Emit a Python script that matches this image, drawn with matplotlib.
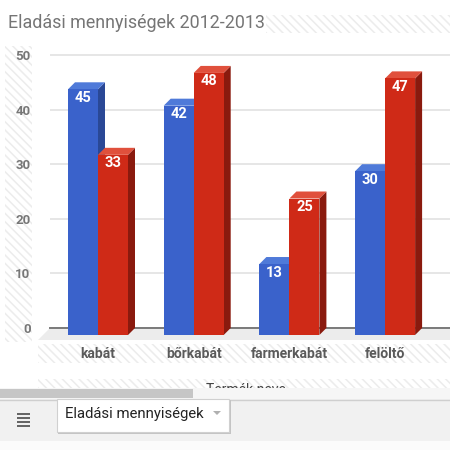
import matplotlib
matplotlib.use("Agg")
import matplotlib.pyplot as plt
from matplotlib.patches import Polygon, Rectangle

plt.rcParams['font.family'] = ['Roboto', 'DejaVu Sans']
plt.rcParams['hatch.linewidth'] = 1.1

# ---- data ----
title = "Eladási mennyiségek 2012-2013"
categories = ['kabát', 'bőrkabát', 'farmerkabát', 'felöltő']
sales_2012 = [45, 42, 13, 30]
sales_2013 = [33, 48, 25, 47]
yticks = [0, 10, 20, 30, 40, 50]
x_title = "Termék neve"
sheet_tab = "Eladási mennyiségek"

# ---- style ----
W = H = 450
fig = plt.figure(figsize=(4.5, 4.5), dpi=100)
fig.patch.set_facecolor('white')

blue = dict(front='#3a62cb', top='#4f7ad9', side='#2a4896')
red = dict(front='#cf2a17', top='#e0503c', side='#8a1a0e')

# overlay axes in pixel coordinates for decorations
ov = fig.add_axes([0, 0, 1, 1], zorder=0)
ov.set_xlim(0, W)
ov.set_ylim(H, 0)
ov.axis('off')

hatch_col = '#ececec'
def hatch_rect(x0, y0, x1, y1, ax=ov):
    ax.add_patch(Rectangle((x0, y0), x1 - x0, y1 - y0, facecolor='none',
                           edgecolor=hatch_col, hatch='\\\\\\\\', lw=0, zorder=0))

hatch_rect(266, 15, 450, 33)
hatch_rect(5, 46, 32, 342)
hatch_rect(38, 344, 450, 363)
hatch_rect(38, 379, 450, 389)

# main chart axes
ax = fig.add_axes([50 / W, 1 - 345 / H, 400 / W, 300 / H], zorder=1)
ax.patch.set_alpha(0)
px_per_unit = 5.46
cat_px = 95.7
ax.set_ylim((328 - 345) / px_per_unit, (328 - 45) / px_per_unit)
ax.set_xlim((50 - 98) / cat_px, (450 - 98) / cat_px)
for s in ax.spines.values():
    s.set_visible(False)

ax.set_yticks(yticks)
ax.set_yticklabels([str(t) for t in yticks], color='#777777', fontsize=9.5, fontweight='bold')
ax.tick_params(axis='y', length=0, pad=14)
ax.yaxis.grid(True, color='#e2e2e2', lw=1.2, zorder=0)
ax.set_axisbelow(True)

ax.set_xticks(range(len(categories)))
ax.set_xticklabels(categories, color='#5a5a5a', fontsize=10, fontweight='bold')
ax.tick_params(axis='x', length=0, pad=1.5)

# floor
x_lo, x_hi = ax.get_xlim()
dx = 7 / cat_px
dy = 7 / px_per_unit
floor_bot = -12 / px_per_unit
ax.add_patch(Polygon([(x_lo, 0), (x_hi, 0), (x_hi, floor_bot), ((38 - 98) / cat_px, floor_bot)],
                     closed=True, facecolor='#ececec', edgecolor='none', zorder=1, clip_on=False))
ax.plot([x_lo, x_hi], [0, 0], color='#7a7a7a', lw=1.4, zorder=1.5, clip_on=False)

bw = 30 / cat_px

def bar3d(x0, v, col, z):
    # side
    ax.add_patch(Polygon([(x0 + bw, -dy), (x0 + bw + dx, 0), (x0 + bw + dx, v), (x0 + bw, v - dy)],
                         closed=True, facecolor=col['side'], edgecolor='none', zorder=z))
    # top
    ax.add_patch(Polygon([(x0, v - dy), (x0 + bw, v - dy), (x0 + bw + dx, v), (x0 + dx, v)],
                         closed=True, facecolor=col['top'], edgecolor='none', zorder=z))
    ax.bar([x0], [v], width=bw, bottom=-dy, align='edge', color=col['front'],
           edgecolor='none', zorder=z + 0.1)
    ax.text(x0 + bw / 2, v - dy - 8.5 / px_per_unit, str(v), ha='center', va='center',
            color='white', fontsize=10.5, fontweight='bold', zorder=z + 0.2)

for i, (a, b) in enumerate(zip(sales_2012, sales_2013)):
    bar3d(i - bw, a, blue, 3 + i)
    bar3d(i, b, red, 3.5 + i)

# title
ov.text(8, 23, title, fontsize=12.9, color='#757575', ha='left', va='center', zorder=2)

# x axis title (partly hidden by scroll bar)
ov.text(246, 390, x_title, fontsize=10, color='#444444', ha='center', va='center', zorder=2)

# scroll bar row
ov.add_patch(Rectangle((0, 388), W, 11, facecolor='#f6f6f6', edgecolor='none', zorder=5))
ov.add_patch(Rectangle((0, 389), 193, 9, facecolor='#c6c6c6', edgecolor='none', zorder=6))

# sheet tab bar
ov.add_patch(Rectangle((0, 399), W, 42, facecolor='#f1f1f1', edgecolor='none', zorder=5))
ov.plot([0, W], [399.5, 399.5], color='#cfcfcf', lw=1, zorder=6)
ov.add_patch(Rectangle((0, 441), W, 9, facecolor='#fbfbfb', edgecolor='none', zorder=5))
# tab
ov.add_patch(Rectangle((58, 400), 173, 34, facecolor='#c4c4c4', edgecolor='none', zorder=6))
ov.add_patch(Rectangle((57, 399), 172, 33, facecolor='white', edgecolor='#d0d0d0', lw=0.8, zorder=7))
ov.text(65, 414, sheet_tab, fontsize=10.7, color='#222222', ha='left', va='center', zorder=8)
ov.add_patch(Polygon([(213, 411), (221, 411), (217, 415)], closed=True, facecolor='#b0b0b0',
                     edgecolor='none', zorder=8))
# hamburger icon
for yy in [413, 417, 421, 425]:
    ov.add_patch(Rectangle((17, yy), 13, 2.2, facecolor='#666666', edgecolor='none', zorder=8))

fig.savefig('out.png', dpi=100, facecolor='white')
